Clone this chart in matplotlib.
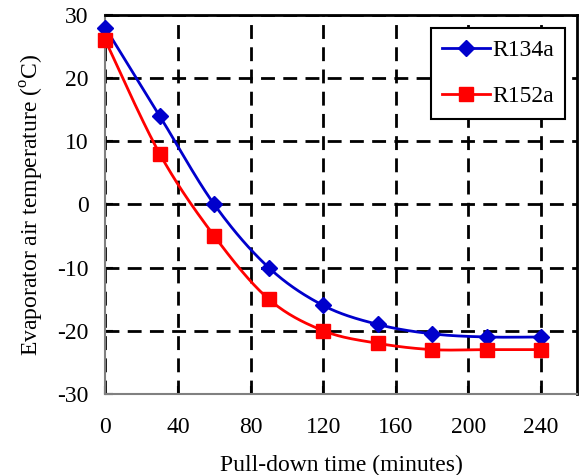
import numpy as np
import matplotlib
matplotlib.use("Agg")
import matplotlib.pyplot as plt

plt.rcParams['font.family'] = ['Liberation Serif', 'DejaVu Serif']
plt.rcParams['mathtext.fontset'] = 'custom'
plt.rcParams['mathtext.rm'] = 'Liberation Serif'
plt.rcParams['axes.unicode_minus'] = False

time_min = [0, 30, 60, 90, 120, 150, 180, 210, 240]
r134a = [28, 14, 0, -10, -16, -19, -20.5, -21, -21]
r152a = [26, 8, -5, -15, -20, -22, -23, -23, -23]
x_ticks = [0, 40, 80, 120, 160, 200, 240]
y_ticks = [-30, -20, -10, 0, 10, 20, 30]


def smooth(x, y, n=30):
    # Catmull-Rom curve through the points, like Excel's smoothed line
    x = np.asarray(x, float)
    y = np.asarray(y, float)
    px = np.concatenate([[x[0]], x, [x[-1]]])
    py = np.concatenate([[y[0]], y, [y[-1]]])
    xs, ys = [], []
    t = np.linspace(0, 1, n)
    for i in range(1, len(px) - 2):
        for p, out in ((px, xs), (py, ys)):
            p0, p1, p2, p3 = p[i - 1], p[i], p[i + 1], p[i + 2]
            b1 = p1 + (p2 - p0) / 6
            b2 = p2 - (p3 - p1) / 6
            out.extend((1 - t) ** 3 * p1 + 3 * (1 - t) ** 2 * t * b1
                       + 3 * (1 - t) * t ** 2 * b2 + t ** 3 * p2)
    return xs, ys


fig = plt.figure(figsize=(5.79, 4.75), dpi=100)
ax = fig.add_axes([0.182, 0.171, 0.815, 0.797])

for ys, col, mk, ms, lab in ((r134a, '#0000CC', 'D', 8.5, 'R134a'),
                             (r152a, '#FF0000', 's', 10.5, 'R152a')):
    sx, sy = smooth(time_min, ys)
    ax.plot(sx, sy, color=col, lw=2, zorder=3)
    ax.plot(time_min, ys, linestyle='none', marker=mk, ms=ms, color=col,
            zorder=4, clip_on=False)
    ax.plot([], [], color=col, lw=2, marker=mk, ms=ms, label=lab)

ax.set_xlim(0, 260)
ax.set_ylim(-30, 30)
ax.set_xticks(x_ticks)
ax.set_yticks(y_ticks)
ax.grid(True, color='black', linestyle=(0, (5, 3)), linewidth=2)
ax.tick_params(direction='in', length=6, width=1.5, labelsize=17, color='black')
ax.tick_params(axis='x', pad=17)
ax.tick_params(axis='y', pad=12)

for s in ('top', 'right'):
    ax.spines[s].set_color('black')
    ax.spines[s].set_linewidth(2)
for s in ('left', 'bottom'):
    ax.spines[s].set_color('#808080')
    ax.spines[s].set_linewidth(1.5)

ax.set_xlabel('Pull-down time (minutes)', fontsize=17, labelpad=12)
ax.set_ylabel(r'Evaporator air temperature ($^{\mathrm{o}}$C)', fontsize=17, labelpad=8)

leg = ax.legend(loc='upper right', bbox_to_anchor=(0.975, 0.967), fontsize=17,
                frameon=True, fancybox=False, edgecolor='black', framealpha=1,
                handlelength=2.0, labelspacing=1.05, borderpad=0.5, handletextpad=0.1,
                borderaxespad=0)
leg.get_frame().set_linewidth(1.5)

fig.savefig('out.png', dpi=100)
